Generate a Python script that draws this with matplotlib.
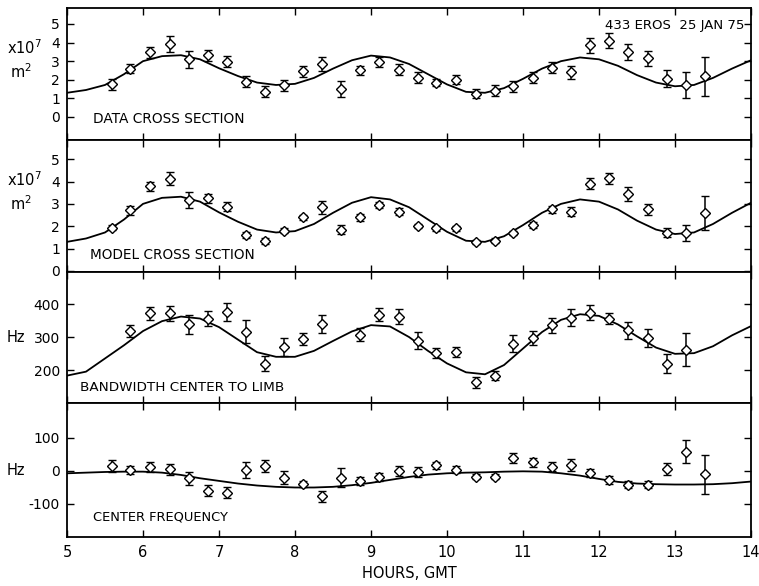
import matplotlib
matplotlib.use("Agg")
import matplotlib.pyplot as plt

plt.rcParams['font.family'] = ['DejaVu Sans']
plt.rcParams['axes.unicode_minus'] = False

# ---- data ----
hours = [5.59, 5.83, 6.09, 6.35, 6.60, 6.85, 7.10, 7.35, 7.61, 7.86, 8.10, 8.35, 8.60, 8.86, 9.11, 9.37,
         9.62, 9.86, 10.12, 10.38, 10.63, 10.87, 11.13, 11.38, 11.63, 11.88, 12.13, 12.38, 12.64, 12.89, 13.14, 13.39]

data_cs = [1.75, 2.6, 3.48, 3.93, 3.1, 3.32, 2.96, 1.9, 1.35, 1.7, 2.45, 2.85, 1.5, 2.5, 2.95, 2.55,
           2.1, 1.85, 2.0, 1.25, 1.4, 1.65, 2.1, 2.65, 2.4, 3.85, 4.1, 3.5, 3.15, 2.05, 1.7, 2.2]
data_err = [0.3, 0.25, 0.3, 0.45, 0.45, 0.3, 0.3, 0.3, 0.3, 0.3, 0.3, 0.4, 0.45, 0.25, 0.25, 0.3,
            0.3, 0.2, 0.25, 0.25, 0.3, 0.3, 0.3, 0.3, 0.35, 0.4, 0.4, 0.45, 0.4, 0.45, 0.7, 1.05]

model_pts = [1.94, 2.72, 3.78, 4.13, 3.16, 3.25, 2.88, 1.61, 1.34, 1.8, 2.4, 2.85, 1.85, 2.4, 2.95, 2.65,
             2.0, 1.9, 1.9, 1.3, 1.35, 1.7, 2.05, 2.75, 2.65, 3.9, 4.15, 3.45, 2.75, 1.7, 1.7, 2.6]
model_err = [0.1, 0.2, 0.2, 0.3, 0.35, 0.2, 0.2, 0.15, 0.15, 0.1, 0.1, 0.3, 0.2, 0.15, 0.15, 0.15,
             0.1, 0.1, 0.1, 0.1, 0.1, 0.1, 0.15, 0.15, 0.2, 0.25, 0.25, 0.3, 0.25, 0.2, 0.35, 0.75]

bw_hours = [5.83, 6.09, 6.35, 6.60, 6.85, 7.10, 7.35, 7.61, 7.86, 8.10, 8.35, 8.86, 9.11, 9.37, 9.62,
            9.86, 10.12, 10.38, 10.63, 10.87, 11.13, 11.38, 11.63, 11.88, 12.13, 12.38, 12.64, 12.89, 13.14]
bw_vals = [318, 372, 372, 338, 355, 377, 316, 219, 269, 293, 340, 307, 368, 361, 289,
           252, 255, 163, 183, 280, 297, 335, 358, 374, 356, 320, 297, 219, 261]
bw_err = [18, 19, 22, 28, 23, 27, 35, 22, 27, 18, 28, 20, 20, 23, 25,
          16, 16, 17, 13, 25, 22, 22, 26, 23, 17, 25, 27, 28, 50]

cf_vals = [15, 3, 13, 5, -22, -60, -66, 3, 15, -20, -40, -77, -20, -30, -18, 0,
           -4, 17, 4, -17, -17, 39, 26, 13, 17, -6, -26, -41, -41, 6, 58, -10]
cf_err = [17, 11, 15, 16, 20, 17, 17, 24, 17, 19, 10, 17, 30, 12, 12, 15,
          15, 10, 10, 7, 7, 15, 13, 13, 18, 12, 12, 12, 12, 17, 35, 59]

curve_hours = [5.0, 5.25, 5.5, 5.75, 6.0, 6.25, 6.5, 6.75, 7.0, 7.25, 7.5, 7.75, 8.0, 8.25, 8.5, 8.75,
               9.0, 9.25, 9.5, 9.75, 10.0, 10.25, 10.5, 10.75, 11.0, 11.25, 11.5, 11.75, 12.0, 12.25,
               12.5, 12.75, 13.0, 13.25, 13.5, 13.75, 14.0]
model_cs = [1.30, 1.45, 1.72, 2.3, 3.0, 3.27, 3.32, 3.1, 2.62, 2.2, 1.85, 1.72, 1.78, 2.1, 2.6, 3.05,
            3.3, 3.2, 2.85, 2.3, 1.75, 1.35, 1.3, 1.55, 2.05, 2.6, 3.0, 3.2, 3.1, 2.75,
            2.25, 1.85, 1.65, 1.72, 2.1, 2.6, 3.05]
model_bw = [183, 195, 235, 275, 318, 348, 362, 356, 330, 292, 254, 240, 240, 258, 288, 317,
            336, 332, 300, 258, 220, 193, 187, 215, 265, 315, 352, 369, 364, 338,
            302, 268, 249, 251, 272, 305, 333]
model_cf = [-7, -5, -3, -2, -2, -5, -12, -22, -30, -38, -44, -48, -50, -50, -48, -43,
            -36, -27, -18, -11, -7, -5, -4, -2, -1, -2, -7, -14, -24, -33,
            -38, -40, -41, -41, -40, -37, -32]

x_ticks = [5, 6, 7, 8, 9, 10, 11, 12, 13, 14]

# ---- figure ----
fig = plt.figure(figsize=(7.59, 5.86), dpi=100)
axes = fig.subplots(4, 1, sharex=True,
                    gridspec_kw=dict(height_ratios=[132, 132, 131, 134], hspace=0))
fig.subplots_adjust(left=67/759, right=751/759, top=1-8/586, bottom=1-537/586)

eb_kw = dict(fmt='D', ms=5, mfc='white', mec='black', mew=1.0, ecolor='black',
             elinewidth=1.1, capsize=3, capthick=1.1, color='black')

panels = [
    (axes[0], hours, data_cs, data_err, model_cs, (-1.24, 5.86), [0, 1, 2, 3, 4, 5],
     'DATA CROSS SECTION', 0.038, 0.16, 9.9),
    (axes[1], hours, model_pts, model_err, model_cs, (-0.05, 5.86), [0, 1, 2, 3, 4, 5],
     'MODEL CROSS SECTION', 0.034, 0.13, 9.8),
    (axes[2], bw_hours, bw_vals, bw_err, model_bw, (100, 497), [200, 300, 400],
     'BANDWIDTH CENTER TO LIMB', 0.019, 0.115, 9.7),
    (axes[3], hours, cf_vals, cf_err, model_cf, (-200, 206), [-100, 0, 100],
     'CENTER FREQUENCY', 0.038, 0.15, 9.4),
]

for ax, hx, vals, errs, curve, ylim, yt, title, tx, ty, tfs in panels:
    ax.plot(curve_hours, curve, color='black', lw=1.3)
    ax.errorbar(hx, vals, yerr=errs, linestyle='none', **eb_kw)
    ax.set_ylim(*ylim)
    ax.set_xlim(5, 14)
    ax.set_yticks(yt)
    ax.set_xticks(x_ticks)
    ax.tick_params(direction='in', top=True, right=True, length=5, width=1.0,
                   labelsize=10, pad=5)
    ax.tick_params(axis='x', labelsize=10.5, pad=6)
    for s in ax.spines.values():
        s.set_linewidth(1.3)
    ax.text(tx, ty, title, transform=ax.transAxes, fontsize=tfs, va='center', ha='left')

for ax in axes[:3]:
    ax.tick_params(labelbottom=False)

# unit labels
for ax in axes[:2]:
    ax.text(-0.088, 0.70, r'x10$^7$', transform=ax.transAxes, fontsize=10.5, ha='left', va='center')
    ax.text(-0.083, 0.52, r'm$^2$', transform=ax.transAxes, fontsize=10.5, ha='left', va='center')
axes[2].text(-0.088, 0.50, 'Hz', transform=axes[2].transAxes, fontsize=10.5, ha='left', va='center')
axes[3].text(-0.088, 0.495, 'Hz', transform=axes[3].transAxes, fontsize=10.5, ha='left', va='center')

axes[0].text(0.991, 0.87, '433 EROS  25 JAN 75', transform=axes[0].transAxes,
             fontsize=9.5, ha='right', va='center')

axes[3].set_xlabel('HOURS, GMT', fontsize=10.5, labelpad=4)

fig.savefig('out.png', dpi=100)
